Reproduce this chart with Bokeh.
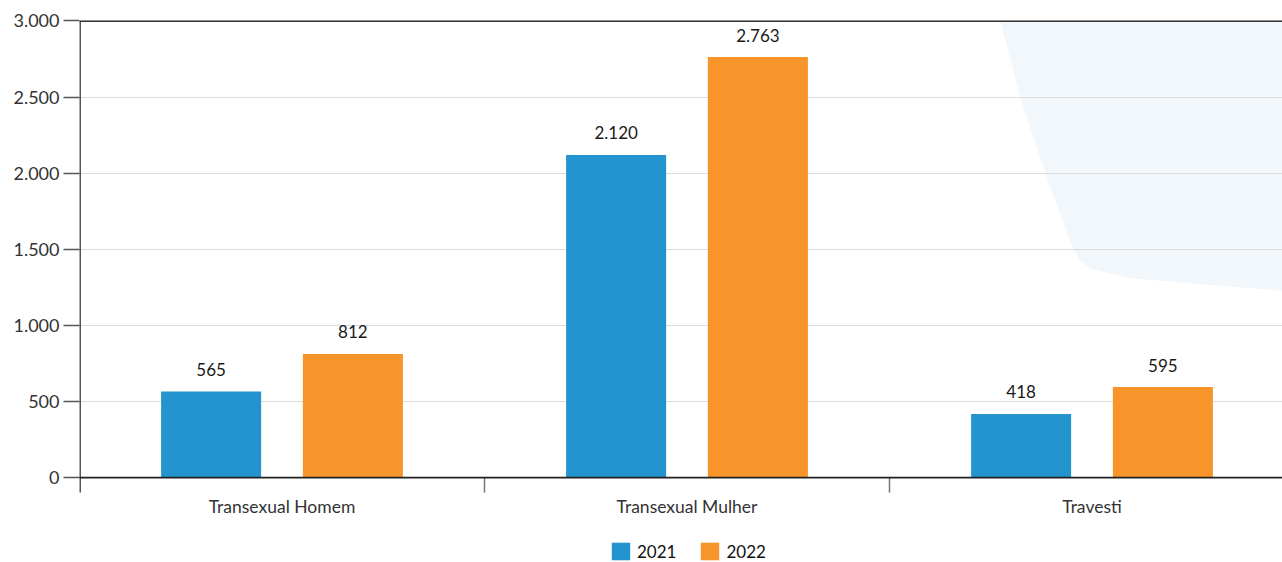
from bokeh.plotting import figure
from bokeh.models import (Range1d, FixedTicker, LinearAxis, Span, Legend, LegendItem,
                          ColumnDataSource)
from bokeh.core.properties import value
from bokeh.embed import file_html
from bokeh.resources import INLINE

# ---- data ----
categories = ["Transexual Homem", "Transexual Mulher", "Travesti"]
years = ["2021", "2022"]
values_2021 = [565, 2120, 418]
values_2022 = [812, 2763, 595]
y_ticks = [0, 500, 1000, 1500, 2000, 2500, 3000]

# decorative background shape (x in category units, y in data units)
deco_x = [2.262, 2.274, 2.323, 2.385, 2.454, 2.472, 2.496, 2.588, 2.751, 2.970, 3.05, 3.05]
deco_y = [3131, 3000, 2494, 1996, 1497, 1424, 1372, 1313, 1273, 1228, 1221, 3300]

C2021 = "#2394cd"
C2022 = "#f7942a"
FONT = "Lato"

def fmt(v):
    return f"{v:,}".replace(",", ".")

centers = [i + 0.5 for i in range(len(categories))]
off = 0.175
bw = 0.247
y_low = -558
tick_low = -98.5

p = figure(frame_width=1203, frame_height=542, output_backend="svg", toolbar_location=None,
           x_range=Range1d(0, 1203 / 405), y_range=Range1d(y_low, 3003),
           x_axis_location=None, y_axis_location=None,
           min_border_left=79, min_border_right=0, min_border_top=20,
           min_border_bottom=0)
p.outline_line_color = None
p.background_fill_color = "white"
p.border_fill_color = "white"

# background decoration
p.patch(deco_x, deco_y, fill_color="#f2f7fb", line_color=None, level="image")

# grid
p.xgrid.visible = False
p.ygrid.ticker = FixedTicker(ticks=y_ticks)
p.ygrid.grid_line_color = "#dcdcdc"
p.ygrid.grid_line_width = 1.2

# y axis (ticks + labels; axis line drawn separately so it stops below 0)
yaxis = LinearAxis(ticker=FixedTicker(ticks=y_ticks),
                   major_label_overrides={t: fmt(t) for t in y_ticks})
yaxis.axis_line_color = None
yaxis.major_tick_line_color = "#555555"
yaxis.major_tick_line_width = 1.5
yaxis.major_tick_out = 16
yaxis.major_tick_in = 0
yaxis.minor_tick_line_color = None
yaxis.major_label_standoff = 4
yaxis.major_label_text_font = FONT
yaxis.major_label_text_font_size = "18px"
yaxis.major_label_text_color = "#333333"
p.add_layout(yaxis, "left")

# y axis line and category boundary ticks
p.segment(x0=[0], y0=[tick_low], x1=[0], y1=[3000], line_color="#555555", line_width=3)
bounds = list(range(1, len(categories)))
p.segment(x0=bounds, y0=[tick_low] * len(bounds), x1=bounds, y1=[0] * len(bounds),
          line_color="#777777", line_width=1.5)

# category labels
p.text(x=centers, y=[0] * len(centers), text=categories, text_align="center",
       text_baseline="middle", y_offset=29, text_font=value(FONT),
       text_font_size="17.5px", text_color="#333333")

# bars
src = ColumnDataSource(dict(
    x1=[c - off for c in centers], x2=[c + off for c in centers],
    v1=values_2021, v2=values_2022,
    t1=[fmt(v) for v in values_2021], t2=[fmt(v) for v in values_2022]))
r1 = p.vbar(x="x1", top="v1", width=bw, bottom=0, source=src,
            fill_color=C2021, line_color=None)
r2 = p.vbar(x="x2", top="v2", width=bw, bottom=0, source=src,
            fill_color=C2022, line_color=None)

for xc, yc, tc in (("x1", "v1", "t1"), ("x2", "v2", "t2")):
    p.text(x=xc, y=yc, text=tc, source=src, text_align="center",
           text_baseline="alphabetic", y_offset=-22, text_font=value(FONT),
           text_font_size="17px", text_color="#1a1a1a")

# top and baseline lines
p.add_layout(Span(location=0, dimension="width", line_color="#222222", line_width=1.8))
p.add_layout(Span(location=3000, dimension="width", line_color="#333333", line_width=2))

legend = Legend(items=[LegendItem(label=years[0], renderers=[r1]),
                       LegendItem(label=years[1], renderers=[r2])],
                orientation="horizontal", location=(530, 0))
legend.glyph_width = 23
legend.glyph_height = 22
legend.label_text_font = FONT
legend.label_text_font_size = "17px"
legend.label_text_color = "#111111"
legend.label_standoff = 5
legend.spacing = 22
legend.padding = 0
legend.margin = 0
legend.border_line_color = None
legend.background_fill_alpha = 0
p.add_layout(legend, "center")

open("out.html", "w").write(file_html(p, INLINE))
